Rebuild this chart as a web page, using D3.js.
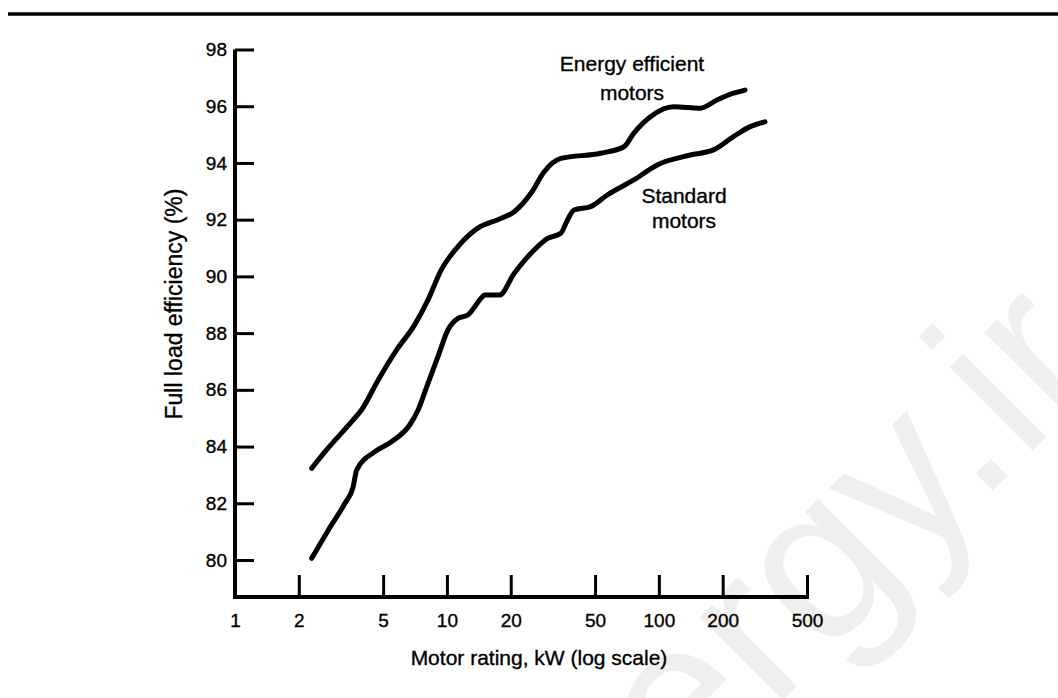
<!DOCTYPE html>
<html>
<head>
<meta charset="utf-8">
<script src="https://cdn.jsdelivr.net/npm/d3@7"></script>
<style>
  html, body { margin: 0; padding: 0; background: #fff; }
  text { font-family: 'Liberation Sans', Arial, sans-serif; fill: #000; }
  .tick text, .title, .note { stroke: #000; stroke-width: 0.35px; }
  .tick text { font-size: 19px; }
  .title, .note { font-size: 21px; }
  .ytitle { font-size: 23px; }
  .curve { fill: none; stroke: #000; stroke-width: 5; stroke-linejoin: round; stroke-linecap: round; }
</style>
</head>
<body>
<svg id="chart" width="1058" height="698"></svg>
<script>
// kW rating vs full load efficiency (%)
const energyKw = [2.3, 2.66, 3.61, 3.95, 4.74, 5.78, 7.04, 8.14, 9.4, 11.27, 13.99, 17.37, 20.79, 24.91, 28.77, 34.45, 53.1, 68.4, 76.2, 91.3, 117.5, 156.9, 188, 225, 255];
const energyEff = [83.23, 83.82, 84.94, 85.29, 86.35, 87.4, 88.29, 89.17, 90.23, 91.05, 91.7, 92.0, 92.28, 92.93, 93.69, 94.16, 94.34, 94.57, 95.05, 95.63, 95.98, 95.93, 96.22, 96.46, 96.57];

const standardKw = [2.3, 2.76, 3.3, 3.61, 3.75, 4.57, 5.47, 6.67, 7.31, 8.14, 9.07, 10.1, 11.27, 12.55, 14.5, 15.03, 17.67, 20.79, 25.8, 29.85, 34.45, 37.05, 39.8, 47.7, 57.1, 76.2, 98.2, 140.8, 181, 225, 269.6, 317];
const standardEff = [80.06, 81.06, 82.0, 82.58, 83.17, 83.82, 84.17, 84.76, 85.29, 86.23, 87.17, 88.11, 88.52, 88.64, 89.23, 89.34, 89.34, 90.11, 90.93, 91.34, 91.52, 91.99, 92.34, 92.46, 92.87, 93.4, 93.93, 94.28, 94.46, 94.93, 95.28, 95.45];

const xTicks = [1, 2, 5, 10, 20, 50, 100, 200, 500];
const yTicks = [80, 82, 84, 86, 88, 90, 92, 94, 96, 98];

const svg = d3.select("#chart");

const x = d3.scaleLog().domain([1, 500]).range([235, 807]);
const y = d3.scaleLinear().domain([80, 98]).range([560, 49.5]);
const axisY = 597;

// faint watermark behind everything
svg.append("text")
  .attr("transform", "translate(510,973) rotate(-45)")
  .style("font-size", "222px")
  .style("fill", "#efefef")
  .text("energy.ir");

// rule across the top of the page
svg.append("line")
  .attr("x1", 8).attr("x2", 1058)
  .attr("y1", 14).attr("y2", 14)
  .attr("stroke", "#000").attr("stroke-width", 3.5);

// y axis
const gy = svg.append("g")
  .attr("transform", `translate(${x(1)},0)`)
  .call(d3.axisLeft(y).tickValues(yTicks).tickSize(-19).tickPadding(8));
gy.select(".domain").remove();
gy.selectAll(".tick line").attr("stroke", "#000").attr("stroke-width", 3);

// x axis
const gx = svg.append("g")
  .attr("transform", `translate(0,${axisY})`)
  .call(d3.axisBottom(x).tickValues(xTicks).tickFormat(d3.format("d")).tickSize(-22));
gx.select(".domain").remove();
gx.selectAll(".tick line").attr("stroke", "#000").attr("stroke-width", 3);
gx.selectAll(".tick text").attr("y", 30).attr("dy", null);

svg.append("path")
  .attr("d", `M${x(1)},${y(98)}V${axisY}H${x(500) + 2}`)
  .attr("fill", "none").attr("stroke", "#000").attr("stroke-width", 4);

// curves
const line = d3.line().x(d => x(d[0])).y(d => y(d[1])).curve(d3.curveMonotoneX);
const energy = energyKw.map((k, i) => [k, energyEff[i]]);
const standard = standardKw.map((k, i) => [k, standardEff[i]]);

svg.append("path").attr("class", "curve").attr("d", line(energy));
svg.append("path").attr("class", "curve").attr("d", line(standard));

// curve labels
const note = (lines, cx, y0, gap) => {
  lines.forEach((s, i) => {
    svg.append("text").attr("class", "note")
      .attr("x", cx).attr("y", y0 + i * gap)
      .attr("text-anchor", "middle").text(s);
  });
};
note(["Energy efficient", "motors"], 632, 71, 29);
note(["Standard", "motors"], 684, 203, 25);

// axis titles
svg.append("text").attr("class", "title")
  .attr("x", 539).attr("y", 665).attr("text-anchor", "middle")
  .text("Motor rating, kW (log scale)");

svg.append("text").attr("class", "title ytitle")
  .attr("transform", "translate(182,304) rotate(-90)")
  .attr("text-anchor", "middle")
  .text("Full load efficiency (%)");
</script>
</body>
</html>
